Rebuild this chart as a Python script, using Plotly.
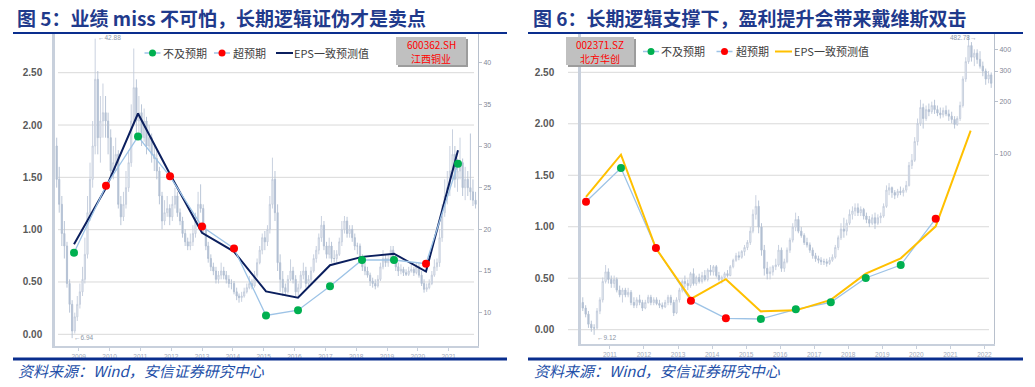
import plotly.graph_objects as go
import pandas as pd

W, H = 1035, 387

# ---------------- Panel 1 : 600362.SH 江西铜业 ----------------
p1_eps_years = ["2008", "2009", "2010", "2011", "2012", "2013", "2014",
                "2015", "2016", "2017", "2018", "2019", "2020"]
p1_eps_consensus = [0.86, 1.40, 2.11, 1.53, 0.97, 0.79, 0.41, 0.35, 0.66, 0.74, 0.77, 0.60, 1.76]
p1_eps_actual = [0.78, 1.42, 1.89, 1.51, 1.03, 0.82, 0.18, 0.23, 0.46, 0.71, 0.71, 0.675, 1.63]
p1_result = ["miss", "beat", "miss", "beat", "beat", "beat", "miss",
             "miss", "miss", "miss", "miss", "beat", "miss"]

# monthly candles, Apr 2008 - Nov 2021
p1_start = "2008-04-01"
p1_open = [30, 26, 23, 19.5, 18, 13.5, 11, 7.8, 9.5,
           11, 12.5, 14, 17, 22, 26, 30, 38, 31, 33, 34, 33,
           31, 27, 28, 29, 23, 21.5, 23, 25, 28, 33, 37, 33,
           34, 31, 33, 30, 31, 29, 28.5, 27, 24, 21, 22, 22.5,
           21.5, 23, 24, 22, 21, 19.5, 18.5, 18, 18.5, 19.5, 21, 23,
           22.5, 20, 18, 16.5, 15.5, 15, 14, 14.5, 15, 14.5, 14, 13.5,
           13.5, 12.5, 12, 11.8, 12, 12.5, 13, 13.5, 13.2, 14.5, 16, 17.5,
           19, 18.5, 20, 23, 26, 22, 16, 14, 13, 12.5, 14, 15,
           14, 12.5, 13, 14.5, 15, 13.5, 14, 15, 16.5, 17.5, 19, 20.5,
           18, 17, 18, 16.5, 16.5, 17, 18.5, 20, 21, 19.5, 20, 19,
           18, 18, 16.5, 15.5, 15, 14.5, 13.8, 13.5, 13.2, 14, 15.5, 16.5,
           16, 16.5, 17.5, 16.5, 15.5, 15, 15.2, 14.8, 14.6, 15, 15.2, 14.8,
           15.5, 14.5, 13.5, 12.8, 13, 13.5, 14.5, 15.5, 16, 19, 22, 24,
           25, 27, 29, 26, 27, 28, 25, 26, 25, 24.5, 23.5]
p1_high = [31, 27.5, 24, 21, 18.5, 14, 11.5, 10, 12,
           13.5, 15.5, 19, 24, 28, 33, 42.88, 39, 36, 37.5, 36, 34,
           32, 30, 31, 29.5, 24, 24.5, 27, 29.5, 35, 41.7, 38, 36,
           35, 34.5, 33.5, 32.5, 31.5, 30, 29.5, 27.5, 24.5, 23.5, 24, 23,
           24, 25, 24.5, 22.5, 21.5, 20, 19, 19.5, 20.5, 22, 24.5, 25.4,
           23, 20.5, 18.5, 17, 16, 15.5, 15, 16, 15.5, 15, 14.5, 14,
           13.8, 13, 12.3, 12.5, 13, 13.5, 14.4, 14, 15, 16.5, 18, 19.5,
           19.8, 20.5, 24, 28.6, 27, 23, 17, 15, 13.5, 14.5, 16.4, 15.5,
           14.5, 13.5, 15, 16, 15.5, 14.5, 15.5, 17, 18, 19.5, 21.6, 21,
           18.5, 19, 18.5, 17.5, 17.5, 19, 21, 21.6, 21.5, 20.5, 20.5, 19.5,
           18.4, 18.3, 17, 16, 15.5, 14.8, 14.2, 14, 14.5, 16, 17.5, 17,
           17, 18, 18, 17, 16, 15.8, 15.5, 15.2, 15.5, 15.8, 15.5, 16,
           16, 15, 14, 13.5, 14, 15, 16.4, 16.5, 20, 23, 26, 27,
           30, 32, 30, 28.5, 31, 28.5, 27.5, 27, 31.5, 26, 24.5]
p1_low = [25, 22, 18, 16.5, 13, 10, 6.94, 7.5, 9,
          10.5, 12, 13.5, 16.5, 21, 25, 29, 29, 28, 31, 31, 29,
          26, 26, 27, 22.5, 20.5, 21, 22.5, 24.5, 27.5, 32.5, 31, 31.5,
          30, 30.5, 29, 29.5, 28, 27, 26, 23, 20, 20.5, 21.5, 20.5,
          21, 22.5, 21.5, 20.5, 19, 18, 17.5, 17.5, 18, 19, 20.5, 22,
          19.5, 17.5, 16, 15, 14.5, 13.5, 13.5, 14, 14, 13.5, 13, 12.8,
          12.2, 11.5, 11.2, 11.3, 11.8, 12.3, 12.8, 12.8, 13, 14.2, 15.8, 17,
          17.5, 18, 19.5, 22.5, 21, 15, 12.5, 12, 12, 12.3, 13.8, 13.5,
          12, 12, 12.8, 14, 13, 13, 13.5, 14.8, 16, 17, 18.5, 17.5,
          16.5, 16.5, 16, 16, 16, 16.8, 18, 19.5, 19, 19, 18.5, 17.5,
          17, 16, 15, 14.5, 14.2, 13.2, 13, 12.8, 13, 13.8, 15.2, 15.5,
          15.5, 16.2, 16, 15, 14.4, 14.6, 14.4, 14.4, 14.4, 14.8, 14.4, 14.6,
          14.2, 13.2, 12.4, 12.5, 12.8, 13.3, 14.3, 15, 15.5, 18.5, 21.5, 23,
          24, 26, 25, 24.5, 26, 24, 23.5, 24, 23.5, 22.8, 22.5]
p1_close = [26, 23, 19.5, 18, 13.5, 11, 7.8, 9.5, 11,
            12.5, 14, 17, 22, 26, 30, 38, 31, 33, 34, 33, 31,
            27, 28, 29, 23, 21.5, 23, 25, 28, 33, 37, 33, 34,
            31, 33, 30, 31, 29, 28.5, 27, 24, 21, 22, 22.5, 21.5,
            23, 24, 22, 21, 19.5, 18.5, 18, 18.5, 19.5, 21, 23, 22.5,
            20, 18, 16.5, 15.5, 15, 14, 14.5, 15, 14.5, 14, 13.5, 13.5,
            12.5, 12, 11.8, 12, 12.5, 13, 13.5, 13.2, 14.5, 16, 17.5, 19,
            18.5, 20, 23, 26, 22, 16, 14, 13, 12.5, 14, 15, 14,
            12.5, 13, 14.5, 15, 13.5, 14, 15, 16.5, 17.5, 19, 20.5, 18,
            17, 18, 16.5, 16.5, 17, 18.5, 20, 21, 19.5, 20, 19, 18,
            18, 16.5, 15.5, 15, 14.5, 13.8, 13.5, 13.2, 14, 15.5, 16.5, 16,
            16.5, 17.5, 16.5, 15.5, 15, 15.2, 14.8, 14.6, 15, 15.2, 14.8, 15.5,
            14.5, 13.5, 12.8, 13, 13.5, 14.5, 15.5, 16, 19, 22, 24, 25,
            27, 29, 26, 27, 28, 25, 26, 25, 24.5, 23.5, 23]
p1_price_ticks = [10, 15, 20, 25, 30, 35, 40]
p1_year_ticks = list(range(2009, 2022))

# ---------------- Panel 2 : 002371.SZ 北方华创 ----------------
p2_eps_years = ["2010", "2011", "2012", "2013", "2014", "2015",
                "2016", "2017", "2018", "2019", "2020", "2021"]
p2_eps_consensus = [1.29, 1.70, 0.79, 0.30, 0.49, 0.178, 0.188, 0.29, 0.544, 0.693, 1.004, 1.933]
p2_eps_actual = [1.243, 1.57, 0.793, 0.282, 0.11, 0.104, 0.198, 0.266, 0.502, 0.628, 1.078]
p2_result = ["beat", "miss", "beat", "beat", "beat", "miss",
             "miss", "miss", "miss", "miss", "beat"]

# monthly candles, Mar 2010 - Mar 2022
p2_start = "2010-03-01"
p2_open = [14, 13, 12, 10.5, 10, 10, 12.5, 14.5, 18.5, 21,
           19, 18, 19, 16.5, 15.5, 16.5, 15.5, 16, 14, 13.5, 14.5, 14,
           13, 14, 15, 14, 14.5, 13.8, 13.5, 13.2, 14, 15, 14, 12.2,
           14.5, 16.5, 18.5, 18, 17.5, 20.5, 18, 19.5, 18.5, 20, 19, 21.5,
           21, 22.5, 20, 19, 19.5, 20.5, 20, 22.5, 24.5, 26, 25.5, 27.5,
           29, 31, 36, 45, 50, 38, 28, 22, 20.5, 21, 22.5, 23,
           28, 22, 24, 28, 32, 38, 42, 36, 34, 31, 30, 28,
           26, 25, 24.5, 24, 24, 23.5, 24.5, 25.5, 29, 33, 37, 36,
           40, 45, 47, 49, 46, 48, 44, 42, 40, 43, 40, 43,
           44, 50, 62, 64, 60, 58, 61, 60, 62, 66, 86, 92,
           118, 150, 185, 160, 180, 175, 190, 180, 172, 168, 178, 170,
           165, 158, 148, 160, 190, 270, 340, 420, 360, 380, 350, 320,
           300, 270, 285]
p2_high = [15, 13.5, 12.5, 11, 10.5, 13, 15, 19.5, 23, 22,
           20, 20, 19.5, 17.5, 17, 17, 17, 16.5, 15, 15, 15.5, 14.5,
           14.5, 15.5, 15.5, 15, 15, 14.5, 14, 14.5, 15.5, 15.5, 14.5, 15,
           17, 19, 20, 19, 21, 22, 20, 20.5, 21, 21.5, 22, 23,
           23, 23, 21, 20, 21, 21.5, 23, 25, 27, 27.5, 28, 30,
           32, 38, 48, 58, 54, 40, 30, 24, 22.5, 23, 25, 30,
           29, 25, 29, 33, 40, 46, 44, 38, 35, 33, 31, 29,
           27, 26, 25.5, 25, 25, 25.5, 26.5, 30, 34, 40, 43, 42,
           48, 50, 52, 52, 50, 49, 46, 44, 45, 46, 45, 46,
           52, 66, 68, 65, 62, 63, 65, 64, 70, 90, 100, 125,
           160, 205, 195, 190, 195, 200, 205, 190, 185, 185, 190, 180,
           175, 165, 165, 200, 280, 360, 482.78, 440, 400, 400, 390, 340,
           310, 300, 295]
p2_low = [12.5, 11.5, 10, 9.5, 9.12, 9.8, 12, 14, 18, 18,
          17, 17, 16, 15, 14, 15, 15, 13.5, 13, 13, 13.5, 12.5,
          12.8, 13.8, 13.5, 13.5, 13.5, 13, 12.8, 13, 13.5, 13.5, 11.7, 12,
          14, 16, 17, 16.5, 17, 17.5, 17.5, 18, 18, 18.5, 18.5, 20,
          20, 19.5, 18.5, 18, 19, 19.5, 19.8, 22, 24, 24.5, 25, 26,
          28, 30, 35, 42, 35, 26, 20, 19, 19, 20, 21.5, 22.5,
          21, 21, 23.5, 27, 31, 36, 35, 33, 30, 29, 27, 25,
          24, 23.5, 23, 23, 22.5, 23, 24, 25, 28, 32, 33, 34,
          39, 42, 44, 44, 44, 42, 40, 38, 39, 37, 39, 40,
          43, 49, 58, 56, 55, 56, 58, 57, 60, 65, 82, 90,
          112, 145, 140, 155, 165, 170, 170, 165, 160, 162, 165, 155,
          150, 140, 145, 155, 185, 260, 330, 340, 320, 330, 310, 280,
          250, 255, 240]
p2_close = [13, 12, 10.5, 10, 10, 12.5, 14.5, 18.5, 21, 19,
            18, 19, 16.5, 15.5, 16.5, 15.5, 16, 14, 13.5, 14.5, 14, 13,
            14, 15, 14, 14.5, 13.8, 13.5, 13.2, 14, 15, 14, 12.2, 14.5,
            16.5, 18.5, 18, 17.5, 20.5, 18, 19.5, 18.5, 20, 19, 21.5, 21,
            22.5, 20, 19, 19.5, 20.5, 20, 22.5, 24.5, 26, 25.5, 27.5, 29,
            31, 36, 45, 50, 38, 28, 22, 20.5, 21, 22.5, 23, 28,
            22, 24, 28, 32, 38, 42, 36, 34, 31, 30, 28, 26,
            25, 24.5, 24, 24, 23.5, 24.5, 25.5, 29, 33, 37, 36, 40,
            45, 47, 49, 46, 48, 44, 42, 40, 43, 40, 43, 44,
            50, 62, 64, 60, 58, 61, 60, 62, 66, 86, 92, 118,
            150, 185, 160, 180, 175, 190, 180, 172, 168, 178, 170, 165,
            158, 148, 160, 190, 270, 340, 420, 360, 380, 350, 320, 300,
            270, 285, 255]
p2_price_ticks = [100, 200, 300, 400]
p2_year_ticks = list(range(2011, 2023))

# ---------------- colours ----------------
C_GREEN, C_RED = "#00B050", "#FF0000"
C_LBLUE, C_NAVY, C_ORANGE = "#9DC3E6", "#0B1F5E", "#FFC000"
C_RULE, C_TITLE, C_SRC = "#0A2E8E", "#1F3A8C", "#2450A8"
CJK = "Noto Sans CJK SC"


def xp(px):
    return px / W


def yp(py):
    return 1 - py / H


def months(start, n):
    return pd.date_range(start, periods=n, freq="MS") + pd.Timedelta(days=14)


fig = go.Figure()

candle_style = dict(
    increasing=dict(line=dict(color="#C3CCDB", width=0.9), fillcolor="#F4F6F9"),
    decreasing=dict(line=dict(color="#B2BFD3", width=0.9), fillcolor="#B2BFD3"),
    hoverinfo="skip", showlegend=False, whiskerwidth=0,
)

# panel 1 price
fig.add_trace(go.Candlestick(x=months(p1_start, len(p1_close)), open=p1_open, high=p1_high,
                             low=p1_low, close=p1_close, xaxis="x", yaxis="y", **candle_style))
# panel 1 EPS
fig.add_trace(go.Scatter(x=p1_eps_years, y=p1_eps_consensus, xaxis="x2", yaxis="y2", mode="lines",
                         line=dict(color=C_NAVY, width=2), showlegend=False, hoverinfo="skip"))
fig.add_trace(go.Scatter(x=p1_eps_years, y=p1_eps_actual, xaxis="x2", yaxis="y2", mode="lines+markers",
                         line=dict(color=C_LBLUE, width=1.3),
                         marker=dict(size=8, color=[C_GREEN if r == "miss" else C_RED for r in p1_result]),
                         showlegend=False, hoverinfo="skip"))

# panel 2 price
fig.add_trace(go.Candlestick(x=months(p2_start, len(p2_close)), open=p2_open, high=p2_high,
                             low=p2_low, close=p2_close, xaxis="x3", yaxis="y3", **candle_style))
# panel 2 EPS
fig.add_trace(go.Scatter(x=p2_eps_years[:len(p2_eps_actual)], y=p2_eps_actual, xaxis="x4", yaxis="y4",
                         mode="lines", line=dict(color=C_LBLUE, width=1.3), showlegend=False, hoverinfo="skip"))
fig.add_trace(go.Scatter(x=p2_eps_years, y=p2_eps_consensus, xaxis="x4", yaxis="y4", mode="lines",
                         line=dict(color=C_ORANGE, width=2), showlegend=False, hoverinfo="skip"))
fig.add_trace(go.Scatter(x=p2_eps_years[:len(p2_eps_actual)], y=p2_eps_actual, xaxis="x4", yaxis="y4",
                         mode="markers",
                         marker=dict(size=8, color=[C_GREEN if r == "miss" else C_RED for r in p2_result]),
                         showlegend=False, hoverinfo="skip"))

axis_line = "#C8D0DC"
date_axis = dict(type="date", showgrid=False, zeroline=False, showline=True, linecolor=axis_line,
                 linewidth=2, ticks="outside", ticklen=3, tickcolor=axis_line,
                 tickfont=dict(size=6.5, color="#A3ABBA", family="Liberation Sans"),
                 rangeslider=dict(visible=False))
price_axis = dict(side="right", showgrid=False, zeroline=False, showline=True, linecolor="#B8C0CC",
                  linewidth=1, ticks="outside", ticklen=3, tickcolor="#B8C0CC",
                  tickfont=dict(size=7, color="#7F8896", family="Liberation Sans"))
eps_axis = dict(side="left", showgrid=False, zeroline=False, showline=True, linecolor=axis_line,
                linewidth=2.5, ticks="", tickvals=[0, 0.5, 1.0, 1.5, 2.0, 2.5], tickformat=".2f",
                tickfont=dict(size=10, color="#595959", family="Liberation Sans", weight="bold"))

fig.update_layout(
    width=W, height=H, margin=dict(l=0, r=0, t=0, b=0),
    paper_bgcolor="white", plot_bgcolor="rgba(0,0,0,0)", showlegend=False,
    xaxis=dict(domain=[xp(55), xp(478)], anchor="y", range=["2008-03-26", "2021-12-14"],
               tickvals=[f"{y}-01-01" for y in p1_year_ticks], ticktext=[str(y) for y in p1_year_ticks],
               **date_axis),
    yaxis=dict(domain=[yp(346), yp(33)], anchor="x", range=[6.0, 43.56], tickvals=p1_price_ticks,
               **price_axis),
    xaxis2=dict(overlaying="x", anchor="y2", type="category", range=[-0.594, 12.625], visible=False),
    yaxis2=dict(overlaying="y", anchor="x2", range=[-0.1118, 2.8794], ticklabelstandoff=8, **eps_axis),
    xaxis3=dict(domain=[xp(581), xp(994)], anchor="y3", range=["2010-02-24", "2022-04-14"],
                tickvals=[f"{y}-01-01" for y in p2_year_ticks], ticktext=[str(y) for y in p2_year_ticks],
                **date_axis),
    yaxis3=dict(domain=[yp(344), yp(33)], anchor="x3", type="log", range=[0.9074, 2.6958],
                tickvals=p2_price_ticks, **price_axis),
    xaxis4=dict(overlaying="x3", anchor="y4", type="category", range=[-0.143, 11.667], visible=False),
    yaxis4=dict(overlaying="y3", anchor="x4", range=[-0.1389, 2.8817], ticklabelstandoff=22, **eps_axis),
)

shapes = []
annotations = []

# gridlines of the EPS charts
for v in [0, 0.5, 1.0, 1.5, 2.0, 2.5]:
    shapes.append(dict(type="line", xref="paper", yref="y2", x0=xp(58), x1=xp(474), y0=v, y1=v,
                       line=dict(color="#D9D9D9", width=1), layer="below"))
    shapes.append(dict(type="line", xref="paper", yref="y4", x0=xp(568), x1=xp(989), y0=v, y1=v,
                       line=dict(color="#D9D9D9", width=1), layer="below"))

# blue rules
for x0, x1 in [(13, 507), (528, 1023)]:
    shapes.append(dict(type="line", xref="paper", yref="paper", x0=xp(x0), x1=xp(x1), y0=yp(33), y1=yp(33),
                       line=dict(color=C_RULE, width=2)))
    shapes.append(dict(type="line", xref="paper", yref="paper", x0=xp(x0), x1=xp(x1), y0=yp(359), y1=yp(359),
                       line=dict(color=C_RULE, width=3)))

# titles and sources
annotations.append(dict(text="<b>图 5：业绩 miss 不可怕，长期逻辑证伪才是卖点</b>", x=xp(15), y=yp(18),
                        xref="paper", yref="paper", xanchor="left", yanchor="middle", showarrow=False,
                        font=dict(family=CJK, size=19, color=C_TITLE)))
annotations.append(dict(text="<b>图 6：长期逻辑支撑下，盈利提升会带来戴维斯双击</b>", x=xp(531), y=yp(18),
                        xref="paper", yref="paper", xanchor="left", yanchor="middle", showarrow=False,
                        font=dict(family=CJK, size=19, color=C_TITLE)))
for x0 in (16, 532):
    annotations.append(dict(text="<i>资料来源：Wind，安信证券研究中心</i>", x=xp(x0), y=yp(370),
                            xref="paper", yref="paper", xanchor="left", yanchor="middle", showarrow=False,
                            font=dict(family=CJK, size=15, color=C_SRC)))


# legends
def legend_marker(cx, cy, color):
    shapes.append(dict(type="line", xref="paper", yref="paper", x0=xp(cx - 8), x1=xp(cx + 8),
                       y0=yp(cy), y1=yp(cy), line=dict(color=C_LBLUE, width=1.5)))
    shapes.append(dict(type="circle", xref="paper", yref="paper", x0=xp(cx - 3.5), x1=xp(cx + 3.5),
                       y0=yp(cy + 3.5), y1=yp(cy - 3.5), fillcolor=color, line=dict(width=0)))


def legend_line(x0, x1, cy, color):
    shapes.append(dict(type="line", xref="paper", yref="paper", x0=xp(x0), x1=xp(x1),
                       y0=yp(cy), y1=yp(cy), line=dict(color=color, width=2)))


def legend_text(x, cy, t):
    annotations.append(dict(text=t, x=xp(x), y=yp(cy), xref="paper", yref="paper", xanchor="left",
                            yanchor="middle", showarrow=False,
                            font=dict(family=CJK, size=11, color="#404040")))


legend_marker(152.5, 53, C_GREEN); legend_text(161, 53, "不及预期")
legend_marker(222, 53, C_RED); legend_text(231, 53, "超预期")
legend_line(276, 293, 53, C_NAVY); legend_text(292, 53, "EPS一致预测值")

legend_marker(651, 51.5, C_GREEN); legend_text(659, 51.5, "不及预期")
legend_marker(724.5, 51.5, C_RED); legend_text(734, 51.5, "超预期")
legend_line(775, 792, 51.5, C_ORANGE); legend_text(792, 51.5, "EPS一致预测值")


# stock boxes
def stock_box(x0, x1, code, name):
    shapes.append(dict(type="rect", xref="paper", yref="paper", x0=xp(x0 + 2), x1=xp(x1 + 2),
                       y0=yp(67), y1=yp(39), fillcolor="#9C9C9C", line=dict(width=0)))
    shapes.append(dict(type="rect", xref="paper", yref="paper", x0=xp(x0), x1=xp(x1),
                       y0=yp(65), y1=yp(37), fillcolor="#C0C0C0", line=dict(width=0)))
    cx = (x0 + x1) / 2
    for t, cy in ((code, 44.5), (name, 58)):
        annotations.append(dict(text=t, x=xp(cx), y=yp(cy), xref="paper", yref="paper", xanchor="center",
                                yanchor="middle", showarrow=False, borderpad=0,
                                font=dict(family=CJK, size=10, color="#FF0000")))


stock_box(396, 466, "600362.SH", "江西铜业")
stock_box(566, 634, "002371.SZ", "北方华创")

# extreme-price labels
for t, x, y, anchor in (("←42.88", 96, 37, "left"), ("←6.94", 72, 337, "left"),
                        ("482.78→", 978, 37, "right"), ("←9.12", 595, 337, "left")):
    annotations.append(dict(text=t, x=xp(x), y=yp(y), xref="paper", yref="paper", xanchor=anchor,
                            yanchor="middle", showarrow=False,
                            font=dict(family="Liberation Sans", size=6.5, color="#8D96A6")))

fig.update_layout(shapes=shapes, annotations=annotations)
fig.write_html("out.html", config={"displayModeBar": False},
               post_script="document.body.style.margin='0px';")
